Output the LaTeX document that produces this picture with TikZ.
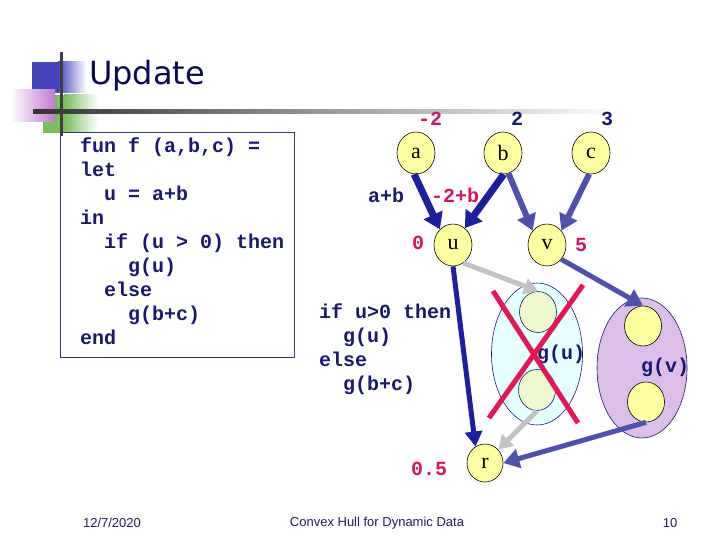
\documentclass[tikz,border=0pt]{standalone}
\usepackage{fontspec}
\setmainfont{Liberation Serif}
\newfontfamily\codefont{Liberation Mono}
\newfontfamily\titlefont{DejaVu Sans}
\newfontfamily\footfont{Liberation Sans}
\usetikzlibrary{arrows.meta,shapes.geometric}
\definecolor{navy}{RGB}{25,25,110}
\definecolor{titlenavy}{RGB}{10,10,80}
\definecolor{mag}{RGB}{210,20,100}
\definecolor{adark}{RGB}{30,30,160}
\definecolor{amed}{RGB}{80,80,175}
\definecolor{agray}{RGB}{195,195,195}
\definecolor{nyellow}{RGB}{255,255,160}
\definecolor{lcyan}{RGB}{230,255,255}
\definecolor{lgreen}{RGB}{238,250,205}
\definecolor{lav}{RGB}{220,190,232}
\definecolor{xred}{RGB}{232,20,90}
\definecolor{sqblue}{RGB}{70,70,190}
\definecolor{sqgreen}{RGB}{120,190,90}
\definecolor{sqpink}{RGB}{195,120,210}
\definecolor{footc}{RGB}{30,30,80}
\tikzset{
  vert/.style={ellipse, draw=black, line width=0.6pt, fill=nyellow, minimum width=38pt, minimum height=42pt, inner sep=0pt, font=\fontsize{22}{24}\selectfont},
  innerc/.style={ellipse, draw=navy, line width=0.6pt, minimum width=37pt, minimum height=41pt, inner sep=0pt},
  grp/.style={ellipse, draw=navy, line width=0.6pt, inner sep=0pt},
  code/.style={font=\codefont\bfseries\fontsize{20}{24}\selectfont, inner sep=0pt},
  arrdark/.style={draw=adark, line width=7pt, -{Triangle[length=16pt,width=20pt]}},
  arrmed/.style={draw=amed, line width=6pt, -{Triangle[length=16pt,width=19pt]}},
  arrgray/.style={draw=agray, line width=5pt, -{Triangle[length=14pt,width=16pt]}},
  foot/.style={font=\footfont\fontsize{13}{15}\selectfont, text=footc, inner sep=0pt}
}
\begin{document}
\begin{tikzpicture}[x=1pt,y=-1pt]
\useasboundingbox (0,0) rectangle (720,540);
% title decoration
\fill[sqblue] (32,62) rectangle (58,93);
\shade[left color=sqblue, right color=white, shading angle=90] (58,62) rectangle (86,93);
\fill[sqgreen] (43,95) rectangle (64,133);
\shade[left color=sqgreen, right color=white] (64,95) rectangle (98,133);
\shade[left color=white, right color=sqpink] (10,90) rectangle (55,122);
\shade[left color=black!80, right color=white] (33,110) rectangle (620,114);
\fill[black!75] (60,52) rectangle (63,136);
\node[font=\titlefont\fontsize{32}{36}\selectfont, text=titlenavy, anchor=west, inner sep=0pt] (title) at (89,76) {Update};
% code box
\draw[navy!70!gray, line width=0.8pt] (60,132) rectangle (294,357);
\node[code, text=navy, align=left, anchor=north west] (prog) at (80,138) {fun f (a,b,c) =\\let\\\ \ u = a+b\\in\\\ \ if (u > 0) then\\\ \ \ \ g(u)\\\ \ else\\\ \ \ \ g(b+c)\\end};
% group ellipses
\node[grp, fill=lcyan, minimum width=91pt, minimum height=142pt] (gu) at (537,354) {};
\node[grp, fill=lav, minimum width=90pt, minimum height=140pt] (gv) at (642,368) {};
\node[innerc, fill=lgreen] (gl1) at (538,312) {};
\node[innerc, fill=lgreen] (gl2) at (537,390) {};
\node[innerc, draw=black, fill=nyellow, minimum width=37pt, minimum height=40pt] (pv1) at (643,326) {};
\node[innerc, draw=black, fill=nyellow, minimum width=37pt, minimum height=40pt] (pv2) at (646,402) {};
\node[code, text=navy] (lgu) at (561,354) {g(u)};
\node[code, text=navy] (lgv) at (665,367) {g(v)};
% vertices
\node[vert] (a) at (416,153) {a};
\node[vert] (b) at (503,153) {b};
\node[vert] (c) at (591,153) {c};
\node[vert] (u) at (453,245) {u};
\node[vert] (v) at (547,245) {v};
\node[vert, minimum width=36pt, minimum height=38pt] (r) at (485,463) {r};
% labels
\node[code, text=mag] (la) at (430,119) {-2};
\node[code, text=navy] (lb) at (517,119) {2};
\node[code, text=navy] (lc) at (607,119) {3};
\node[code, text=navy] (lab) at (386,195) {a+b};
\node[code, text=mag] (lmb) at (455,195) {-2+b};
\node[code, text=mag] (lu) at (418,243) {0};
\node[code, text=mag] (lv) at (581,245) {5};
\node[code, text=mag] (lr) at (429,469) {0.5};
\node[code, text=navy, align=left, anchor=north west] (cond) at (319,304) {if u>0 then\\\ \ g(u)\\else\\\ \ g(b+c)};
% arrows
\draw[arrdark] (a.-95) -- (u.130);
\draw[arrdark] (b.-88) -- (u.55);
\draw[arrmed] (b.-75) -- (v.135);
\draw[arrmed] (c.-95) -- (v.45);
\draw[arrdark, line width=5pt, -{Triangle[length=15pt,width=17pt]}] (u.south) -- (r.120);
\draw[arrgray] (u.-60) -- (gl1.north);
\draw[arrmed, line width=5pt] (v.-45) -- (pv1.north);
\draw[arrgray] (gl2.south) -- (r.45);
\draw[arrmed, line width=5pt] (pv2.south) -- (r.east);
% cross
\draw[xred, line width=5pt] (493,291) -- (578,423);
\draw[xred, line width=5pt] (583,285) -- (489,418);
% footer
\node[foot] (date) at (112,523) {12/7/2020};
\node[foot] (ftitle) at (377,523) {Convex Hull for Dynamic Data};
\node[foot] (page) at (670,523) {10};
\end{tikzpicture}
\end{document}
